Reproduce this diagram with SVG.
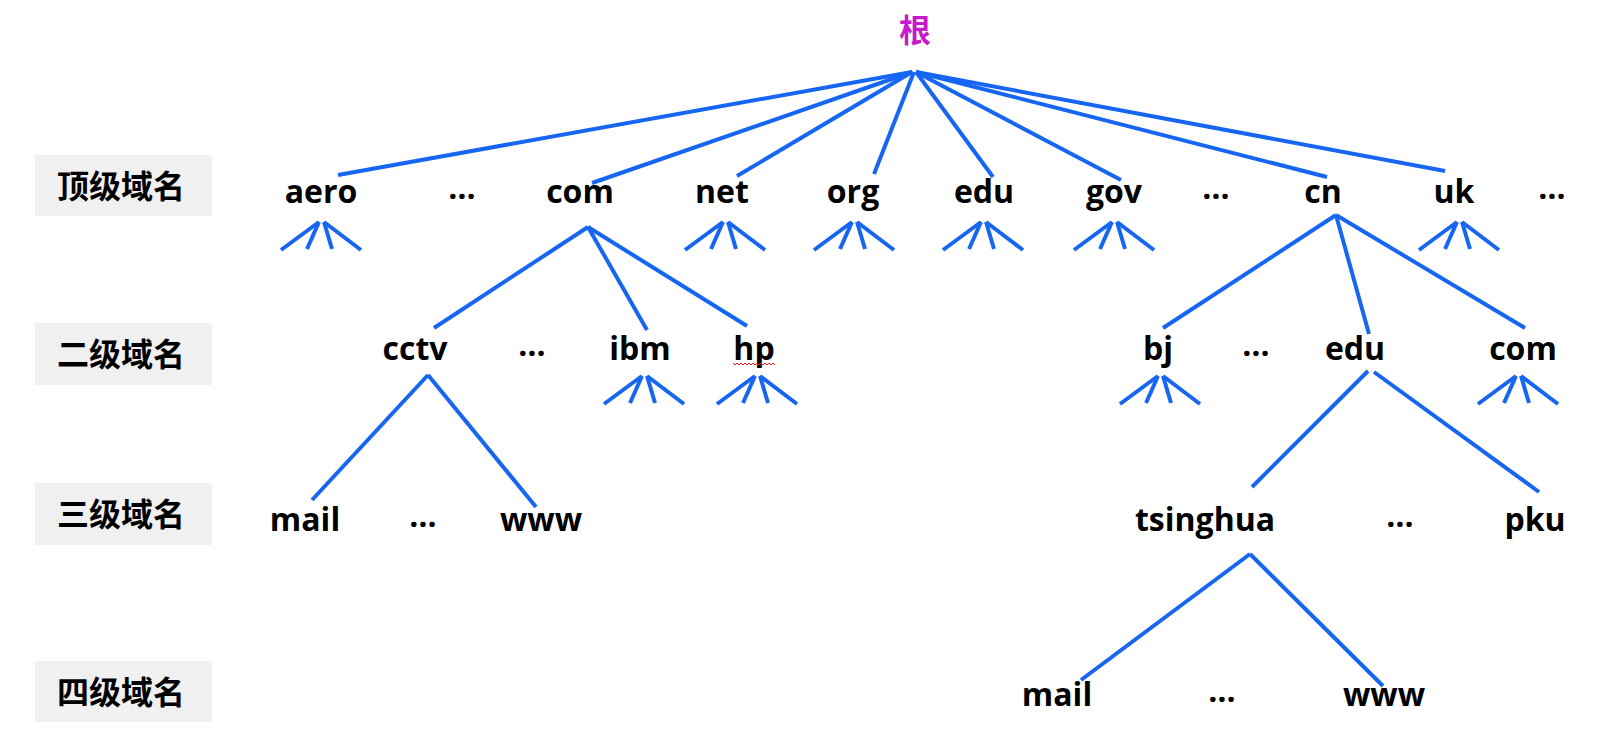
<svg xmlns="http://www.w3.org/2000/svg" width="1610" height="752" viewBox="0 0 1610 752">
<style>
.t{font-family:"Open Sans","Liberation Sans","Noto Sans CJK SC",sans-serif;font-weight:700;font-size:32px;fill:#000;text-anchor:middle}
.lb{font-family:"Noto Sans CJK SC","Noto Sans",sans-serif;font-weight:700;font-size:32px;fill:#000;text-anchor:middle}
.root{font-family:"Noto Sans CJK SC","Noto Sans",sans-serif;font-weight:700;font-size:32px;fill:#C71BC9;text-anchor:middle}
.box{fill:#F0F0F0}
.ln{stroke:#1666F2;stroke-width:4;fill:none;stroke-linecap:butt}
</style>
<defs>
<g id="fan" class="ln">
<line x1="-2" y1="0" x2="-40" y2="28"/>
<line x1="-2" y1="0" x2="-14" y2="27"/>
<line x1="3" y1="0" x2="11" y2="27"/>
<line x1="3" y1="0" x2="40" y2="28"/>
</g>
</defs>
<rect width="1610" height="752" fill="#fff"/>

<g id="levels">
<g id="level1"><rect class="box" x="35" y="155" width="177" height="61"/><text class="lb" x="121" y="198">顶级域名</text></g>
<g id="level2"><rect class="box" x="35" y="323" width="177" height="62"/><text class="lb" x="121" y="366">二级域名</text></g>
<g id="level3"><rect class="box" x="35" y="483" width="177" height="62"/><text class="lb" x="121" y="526">三级域名</text></g>
<g id="level4"><rect class="box" x="35" y="661" width="177" height="61"/><text class="lb" x="121" y="704">四级域名</text></g>
</g>

<g id="connectors" class="ln">
<line x1="912" y1="72" x2="338" y2="175"/>
<line x1="912" y1="72" x2="592" y2="183"/>
<line x1="912" y1="72" x2="737" y2="176"/>
<line x1="914" y1="72" x2="874" y2="174"/>
<line x1="916" y1="72" x2="993" y2="177"/>
<line x1="916" y1="72" x2="1121" y2="180"/>
<line x1="916" y1="72" x2="1327" y2="177"/>
<line x1="916" y1="72" x2="1445" y2="171"/>
<line x1="588" y1="227" x2="434" y2="328"/>
<line x1="588" y1="227" x2="647" y2="330"/>
<line x1="588" y1="227" x2="747" y2="326"/>
<line x1="1336" y1="215" x2="1163" y2="328"/>
<line x1="1336" y1="215" x2="1369" y2="334"/>
<line x1="1336" y1="215" x2="1525" y2="328"/>
<line x1="428" y1="375" x2="312" y2="500"/>
<line x1="428" y1="375" x2="536" y2="507"/>
<line x1="1368" y1="371" x2="1252" y2="487"/>
<line x1="1374" y1="372" x2="1539" y2="492"/>
<line x1="1250" y1="554" x2="1081" y2="680"/>
<line x1="1250" y1="554" x2="1383" y2="686"/>
<use href="#fan" x="321" y="222"/>
<use href="#fan" x="725" y="222"/>
<use href="#fan" x="854" y="222"/>
<use href="#fan" x="983" y="222"/>
<use href="#fan" x="1114" y="222"/>
<use href="#fan" x="1459" y="222"/>
<use href="#fan" x="644" y="376"/>
<use href="#fan" x="757" y="376"/>
<use href="#fan" x="1160" y="376"/>
<use href="#fan" x="1518" y="376"/>
</g>

<g id="root"><text class="root" x="915" y="42">根</text></g>

<g id="n-aero"><text class="t" x="321" y="203">aero</text></g>
<g id="n-dots1"><text class="t" x="462" y="199">…</text></g>
<g id="n-com"><text class="t" x="580" y="203">com</text></g>
<g id="n-net"><text class="t" x="722" y="203">net</text></g>
<g id="n-org"><text class="t" x="853" y="203">org</text></g>
<g id="n-edu"><text class="t" x="984" y="203">edu</text></g>
<g id="n-gov"><text class="t" x="1114" y="203">gov</text></g>
<g id="n-dots2"><text class="t" x="1216" y="199">…</text></g>
<g id="n-cn"><text class="t" x="1323" y="203">cn</text></g>
<g id="n-uk"><text class="t" x="1454" y="203">uk</text></g>
<g id="n-dots3"><text class="t" x="1552" y="199">…</text></g>

<g id="n-cctv"><text class="t" x="415" y="360">cctv</text></g>
<g id="n-dots4"><text class="t" x="532" y="356">…</text></g>
<g id="n-ibm"><text class="t" x="640" y="360">ibm</text></g>
<g id="n-hp"><text class="t" x="754" y="360">hp</text>
<path d="M733 363 l2 2 l2 -2 l2 2 l2 -2 l2 2 l2 -2 l2 2 l2 -2 l2 2 l2 -2 l2 2 l2 -2 l2 2 l2 -2 l2 2 l2 -2 l2 2 l2 -2 l2 2 l2 -2 l2 2" fill="none" stroke="#E02020" stroke-width="1"/></g>
<g id="n-bj"><text class="t" x="1158" y="360">bj</text></g>
<g id="n-dots5"><text class="t" x="1256" y="356">…</text></g>
<g id="n-edu2"><text class="t" x="1355" y="360">edu</text></g>
<g id="n-com2"><text class="t" x="1523" y="360">com</text></g>

<g id="n-mail"><text class="t" x="305" y="531">mail</text></g>
<g id="n-dots6"><text class="t" x="423" y="527">…</text></g>
<g id="n-www"><text class="t" x="541" y="531">www</text></g>
<g id="n-tsinghua"><text class="t" x="1205" y="531">tsinghua</text></g>
<g id="n-dots7"><text class="t" x="1400" y="527">…</text></g>
<g id="n-pku"><text class="t" x="1535" y="531">pku</text></g>

<g id="n-mail2"><text class="t" x="1057" y="706">mail</text></g>
<g id="n-dots8"><text class="t" x="1222" y="702">…</text></g>
<g id="n-www2"><text class="t" x="1384" y="706">www</text></g>
</svg>
